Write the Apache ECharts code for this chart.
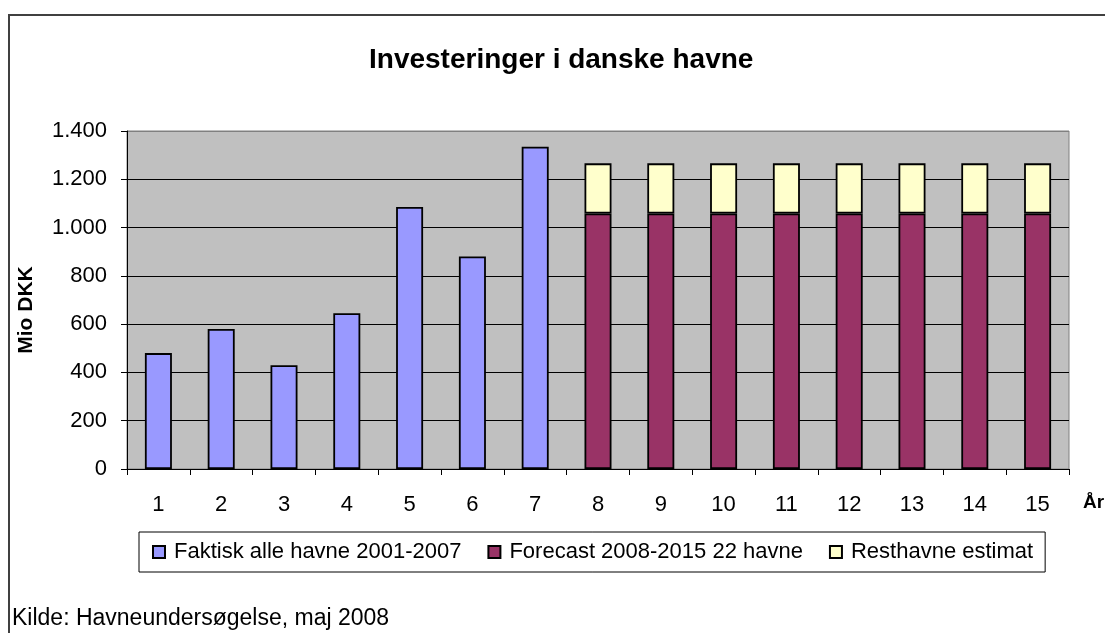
<!DOCTYPE html>
<html>
<head>
<meta charset="utf-8">
<script src="https://cdn.jsdelivr.net/npm/echarts@6/dist/echarts.min.js"></script>
<style>
  html, body { margin: 0; padding: 0; background: #fff; }
  #chart { width: 1105px; height: 633px; }
</style>
</head>
<body>
<div id="chart"></div>
<script>
// years 1..15 (2001-2015)
const years = ["1", "2", "3", "4", "5", "6", "7", "8", "9", "10", "11", "12", "13", "14", "15"];
const faktisk = [480, 580, 430, 645, 1085, 880, 1335, "-", "-", "-", "-", "-", "-", "-", "-"];
const forecast = ["-", "-", "-", "-", "-", "-", "-", 1058, 1058, 1058, 1058, 1058, 1058, 1058, 1058];
const resthavne = ["-", "-", "-", "-", "-", "-", "-", 208, 208, 208, 208, 208, 208, 208, 208];
const seriesNames = ["Faktisk alle havne 2001-2007", "Forecast 2008-2015 22 havne", "Resthavne estimat"];
const colors = ["#9999FF", "#993366", "#FFFFCC"];

const font = "Liberation Sans, Arial, sans-serif";
const chart = echarts.init(document.getElementById("chart"));

function fmt(v) {
  return String(v).replace(/\B(?=(\d{3})+(?!\d))/g, ".");
}

function bar(name, data, color) {
  return {
    name: name,
    type: "bar",
    stack: "total",
    data: data,
    barWidth: 27,
    itemStyle: { color: color, borderColor: "#000", borderWidth: 1.8 },
    emphasis: { disabled: true }
  };
}

const option = {
  animation: false,
  textStyle: { fontFamily: font },
  title: {
    text: "Investeringer i danske havne",
    left: 364,
    top: 41,
    textStyle: { fontFamily: font, fontSize: 28, fontWeight: "bold", color: "#000" }
  },
  legend: {
    left: 139,
    top: 532,
    padding: [9, 12, 9, 13],
    itemGap: 26,
    itemWidth: 12,
    itemHeight: 12,
    borderColor: "#000",
    borderWidth: 1,
    icon: "rect",
    selectedMode: false,
    textStyle: { fontFamily: font, fontSize: 22, color: "#000", padding: [0, 0, 0, 4] },
    data: seriesNames
  },
  grid: {
    left: 127,
    right: 36,
    top: 131,
    bottom: 164,
    show: true,
    backgroundColor: "#C0C0C0",
    borderColor: "#808080",
    borderWidth: 1
  },
  xAxis: {
    type: "category",
    data: years,
    axisLine: { lineStyle: { color: "#000", width: 1 } },
    axisTick: { show: true, length: 6, lineStyle: { color: "#000" } },
    axisLabel: { fontFamily: font, fontSize: 22, color: "#000", margin: 25 }
  },
  yAxis: {
    type: "value",
    min: 0,
    max: 1400,
    interval: 200,
    axisLine: { show: true, lineStyle: { color: "#000", width: 1 } },
    axisTick: { show: true, length: 6, lineStyle: { color: "#000" } },
    axisLabel: { fontFamily: font, fontSize: 22, color: "#000", margin: 20, formatter: fmt },
    splitLine: {
      lineStyle: { color: ["#000", "#000", "#000", "#000", "#000", "#000", "#000", "#808080"], width: 1 }
    }
  },
  graphic: [
    {
      type: "rect",
      shape: { x: 9, y: 15, width: 1300, height: 800 },
      style: { fill: null, stroke: "#404040", lineWidth: 2 },
      silent: true
    },
    {
      type: "text",
      x: 26,
      y: 310,
      rotation: Math.PI / 2,
      style: {
        text: "Mio DKK",
        font: "bold 21px " + font,
        fill: "#000",
        align: "center",
        verticalAlign: "middle"
      }
    },
    {
      type: "text",
      x: 1083,
      y: 503,
      style: { text: "År", font: "bold 19px " + font, fill: "#000", verticalAlign: "middle" }
    },
    {
      type: "text",
      x: 12,
      y: 619,
      style: { text: "Kilde: Havneundersøgelse, maj 2008", font: "23px " + font, fill: "#000", verticalAlign: "middle" }
    }
  ],
  series: [
    bar(seriesNames[0], faktisk, colors[0]),
    bar(seriesNames[1], forecast, colors[1]),
    bar(seriesNames[2], resthavne, colors[2])
  ]
};

chart.setOption(option);
</script>
</body>
</html>
